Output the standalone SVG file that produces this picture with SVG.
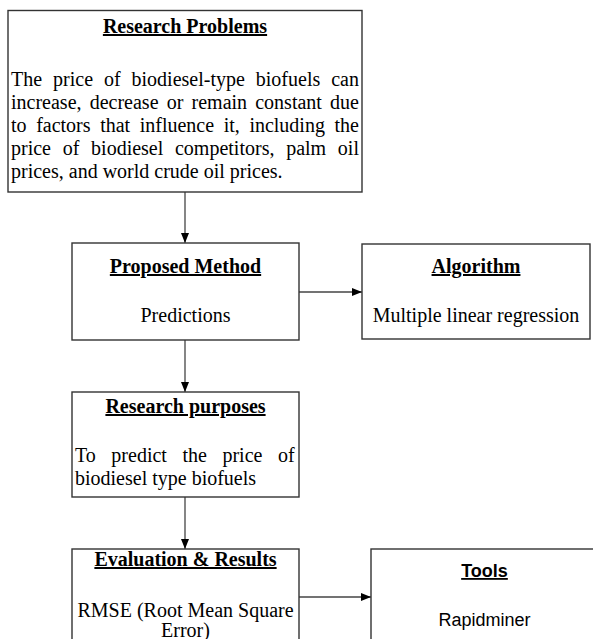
<svg xmlns="http://www.w3.org/2000/svg" width="593" height="639" viewBox="0 0 593 639">
<defs>
<marker id="ah" markerWidth="10" markerHeight="8" refX="10" refY="4" orient="auto" markerUnits="userSpaceOnUse">
<path d="M0,0 L10,4 L0,8 Z" fill="#000"/>
</marker>
<style>
.box{fill:#fff;stroke:#333;stroke-width:1.4}
.t{font-family:"Liberation Serif","Times New Roman",serif;font-size:20px;fill:#000}
.h{font-weight:bold;text-decoration:underline;text-anchor:middle}
.c{text-anchor:middle}
.s{font-family:"Liberation Sans",Arial,sans-serif;font-size:18px;fill:#000}
.conn{stroke:#444;stroke-width:1.3;fill:none;marker-end:url(#ah)}
</style>
</defs>
<rect width="593" height="639" fill="#fff"/>
<g id="connectors">
<line class="conn" x1="185" y1="192" x2="185" y2="243"/>
<line class="conn" x1="299" y1="292" x2="362" y2="292"/>
<line class="conn" x1="185" y1="340" x2="185" y2="392"/>
<line class="conn" x1="185" y1="497" x2="185" y2="549"/>
<line class="conn" x1="299" y1="597" x2="371" y2="597"/>
</g>
<g id="research-problems">
<rect class="box" x="8" y="10.5" width="354" height="181.5"/>
<text class="t h" x="185" y="33">Research Problems</text>
<text class="t" x="11" y="86" word-spacing="5.94">The price of biodiesel-type biofuels can</text>
<text class="t" x="11" y="108.5" word-spacing="3.18">increase, decrease or remain constant due</text>
<text class="t" x="11" y="131.5" word-spacing="4.58">to factors that influence it, including the</text>
<text class="t" x="11" y="154.5" word-spacing="6.72">price of biodiesel competitors, palm oil</text>
<text class="t" x="11" y="177.5">prices, and world crude oil prices.</text>
</g>
<g id="proposed-method">
<rect class="box" x="72" y="243" width="227" height="97"/>
<text class="t h" x="185.5" y="273">Proposed Method</text>
<text class="t c" x="185.5" y="322">Predictions</text>
</g>
<g id="algorithm">
<rect class="box" x="362" y="244" width="228" height="95"/>
<text class="t h" x="476" y="273">Algorithm</text>
<text class="t c" x="476" y="322">Multiple linear regression</text>
</g>
<g id="research-purposes">
<rect class="box" x="72" y="392" width="227" height="105"/>
<text class="t h" x="185.5" y="413">Research purposes</text>
<text class="t" x="75" y="462" word-spacing="10.55">To predict the price of</text>
<text class="t" x="75" y="485">biodiesel type biofuels</text>
</g>
<g id="evaluation-results">
<rect class="box" x="72" y="549" width="227" height="100"/>
<text class="t h" x="185.5" y="566">Evaluation &amp; Results</text>
<text class="t c" x="185.5" y="617">RMSE (Root Mean Square</text>
<text class="t c" x="185.5" y="637">Error)</text>
</g>
<g id="tools">
<rect class="box" x="371" y="549" width="230" height="100"/>
<text class="s h" x="484.5" y="577">Tools</text>
<text class="s c" x="484.5" y="626">Rapidminer</text>
</g>
</svg>
